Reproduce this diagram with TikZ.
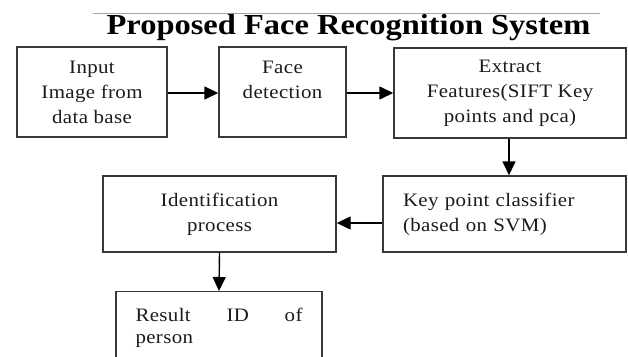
\documentclass[tikz,border=0pt]{standalone}
\usepackage{fontspec}
\setmainfont{Liberation Serif}[FakeStretch=1.1, LetterSpace=2]
\newfontfamily\titlefont{Liberation Serif}[FakeStretch=1.12]
\usetikzlibrary{arrows.meta}
\definecolor{txt}{HTML}{1E1A18}
\definecolor{edge}{HTML}{383838}
\tikzset{
  stepbox/.style={draw=edge, line width=1.4pt, inner sep=0pt, align=center,
    text=txt, font=\fontsize{19pt}{25pt}\selectfont},
  flow/.style={draw=black, line width=1.4pt, -{Triangle[length=14pt,width=13pt]}},
}
\begin{document}
\begin{tikzpicture}[x=1pt,y=-1pt]
\clip (0,0) rectangle (628,356);
\fill[white] (0,0) rectangle (628,356);
% title
\coordinate (tl) at (93,13);
\coordinate (tr) at (600,13);
\draw[draw=gray!70, line width=0.8pt] (tl) -- (tr);
\node[anchor=base, inner sep=0pt, font=\titlefont\bfseries\fontsize{29pt}{34pt}\selectfont] (title) at (348.5,34) {Proposed Face Recognition System};
% row 1
\node[stepbox, minimum width=150pt, minimum height=90pt] (input) at (92,92) {Input\\Image from\\data base};
\node[stepbox, minimum width=127pt, minimum height=90pt] (face) at (282.5,92) {Face\\detection\\\phantom{a}};
\node[stepbox, minimum width=232pt, minimum height=90pt] (extract) at (510,93) {Extract\\Features(SIFT Key\\points and pca)};
% row 2
\node[stepbox, minimum width=233pt, minimum height=76pt] (ident) at (219.5,214) {Identification\\process};
\node[stepbox, minimum width=243pt, minimum height=76pt, align=left, text width=203pt, inner xsep=20pt] (key) at (504.5,214) {Key point classifier\\(based on SVM)};
% result
\node[stepbox, minimum width=206pt, minimum height=72pt, anchor=north, align=left, text width=167pt, font=\fontsize{19pt}{22pt}\selectfont] (result) at (219,291) {\hbox to 167pt{Result\hfill ID\hfill of}\\person};
% connectors
\coordinate (r1) at (0,93);
\coordinate (r2) at (0,223);
\draw[flow] (input.east |- r1) -- (face.west |- r1);
\draw[flow] (face.east |- r1) -- (extract.west |- r1);
\draw[flow] (extract.south -| 509,0) -- (key.north -| 509,0);
\draw[flow] (key.west |- r2) -- (ident.east |- r2);
\draw[flow] (ident.south) -- (result.north);
\end{tikzpicture}
\end{document}
